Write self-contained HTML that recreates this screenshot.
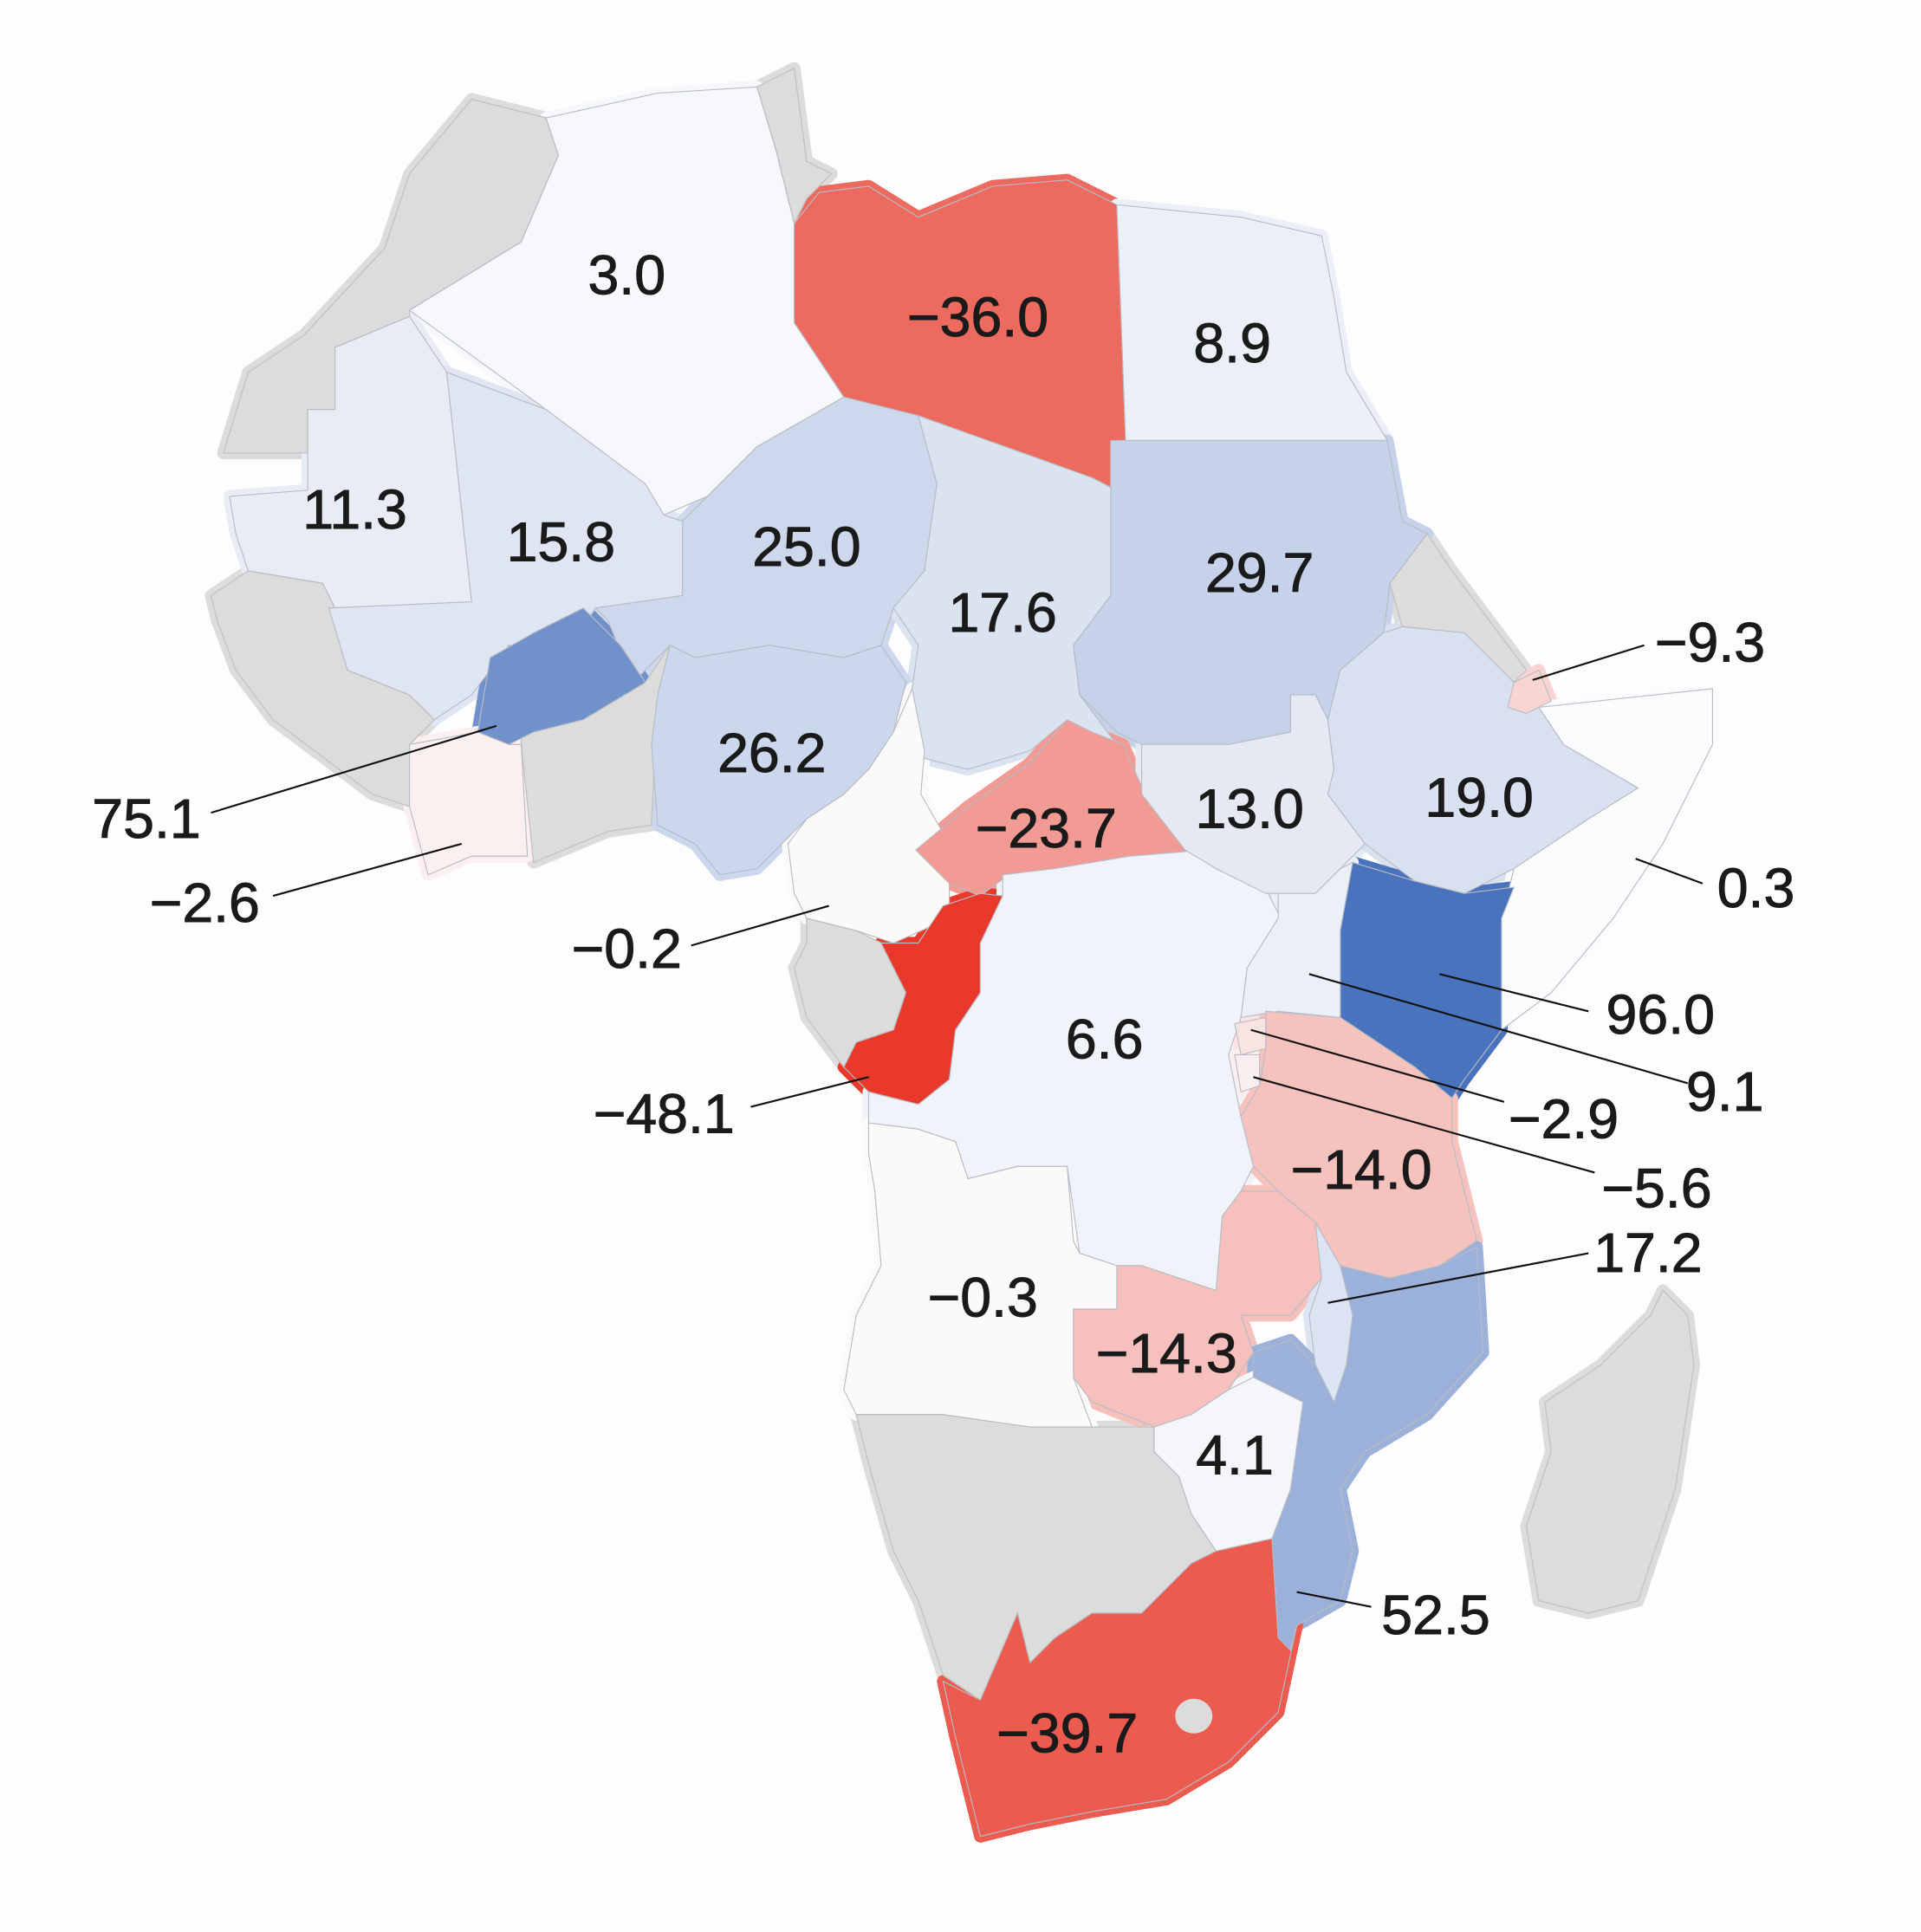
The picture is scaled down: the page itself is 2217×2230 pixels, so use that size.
<!DOCTYPE html>
<html><head><meta charset="utf-8"><style>
html,body{margin:0;padding:0;background:#fdfdfd;}
svg{display:block;}
text{font-family:"Liberation Sans",sans-serif;font-size:45px;fill:#1a1a1a;stroke:#1a1a1a;stroke-width:0.7;}
</style></head><body>
<svg id="map" width="2217" height="2230" viewBox="0 0 1548 1557" xmlns="http://www.w3.org/2000/svg">
<rect width="1548" height="1557" fill="#fdfdfd"/>
<g id="under"></g><g id="countries"></g><g id="leaders"></g><g id="labels"></g>
</svg>
<script>
const countries=["Algeria","Libya","Egypt","Mauritania","Mali","Niger","Chad","Sudan","Burkina Faso","Nigeria","Cote d'Ivoire","Cameroon","CAR","Congo","DRC","South Sudan","Ethiopia","Djibouti","Somalia","Kenya","Uganda","Rwanda","Burundi","Tanzania","Zambia","Malawi","Mozambique","Zimbabwe","Angola","South Africa"];
const values=[3.0,-36.0,8.9,11.3,15.8,25.0,17.6,29.7,75.1,26.2,-2.6,-0.2,-23.7,-48.1,6.6,13.0,19.0,-9.3,0.3,96.0,9.1,-5.6,-2.9,-14.0,-14.3,17.2,52.5,4.1,-0.3,-39.7];
const valueLabels=["3.0","\u221236.0","8.9","11.3","15.8","25.0","17.6","29.7","75.1","26.2","\u22122.6","\u22120.2","\u221223.7","\u221248.1","6.6","13.0","19.0","\u22129.3","0.3","96.0","9.1","\u22125.6","\u22122.9","\u221214.0","\u221214.3","17.2","52.5","4.1","\u22120.3","\u221239.7"];
const shapes={
"Algeria":[[330,250],[420,195],[450,125],[440,95],[530,75],[610,70],[625,120],[640,180],[640,260],[680,320],[610,360],[570,400],[535,415],[520,390],[440,330]],
"Libya":[[640,180],[660,155],[700,150],[740,175],[800,150],[860,145],[900,165],[910,400],[880,385],[740,335],[680,320],[640,260]],
"Egypt":[[900,165],[1000,175],[1065,190],[1075,240],[1085,300],[1118,355],[907,355]],
"Mauritania":[[185,400],[248,395],[248,330],[270,330],[270,280],[330,255],[360,300],[380,485],[270,490],[260,470],[200,460],[190,430]],
"Mali":[[360,300],[440,330],[520,390],[535,415],[550,420],[550,480],[480,490],[460,520],[410,520],[380,560],[350,580],[330,560],[280,540],[265,490],[380,485]],
"Niger":[[550,420],[570,400],[610,360],[680,320],[740,335],[755,390],[745,460],[720,490],[710,520],[680,530],[620,520],[560,530],[540,520],[510,550],[490,500],[480,490],[550,480]],
"Chad":[[740,335],[880,385],[905,398],[895,480],[865,520],[870,560],[900,600],[880,600],[860,580],[830,605],[780,620],[740,610],[735,555],[740,520],[720,490],[745,460],[755,390]],
"Sudan":[[895,355],[1118,355],[1130,420],[1150,430],[1120,470],[1115,510],[1080,540],[1070,580],[1060,560],[1040,560],[1040,590],[990,600],[920,600],[900,590],[870,560],[865,520],[895,480]],
"Burkina Faso":[[385,590],[395,530],[430,510],[470,490],[500,520],[520,550],[470,580],[430,590],[410,600]],
"Nigeria":[[540,520],[560,530],[620,520],[680,530],[710,520],[730,550],[720,590],[700,620],[680,640],[650,660],[630,680],[610,700],[580,705],[560,680],[530,665],[525,600],[530,560]],
"Cote d'Ivoire":[[330,600],[385,590],[410,600],[420,600],[425,690],[380,690],[345,705],[330,650]],
"Cameroon":[[700,620],[720,590],[735,555],[745,605],[742,640],[765,680],[765,740],[720,760],[690,750],[650,740],[640,720],[635,680],[650,660],[680,640]],
"CAR":[[738,685],[780,650],[830,615],[860,580],[880,590],[905,600],[925,645],[958,688],[910,692],[850,702],[810,707],[790,722],[765,712]],
"Congo":[[760,730],[790,720],[808,722],[790,760],[790,800],[770,830],[765,870],[740,890],[700,880],[680,860],[690,840],[720,830],[730,800],[720,780],[710,760],[740,760]],
"DRC":[[808,705],[850,700],[910,690],[958,686],[980,700],[1022,720],[1032,740],[1005,780],[1000,820],[990,850],[1000,900],[1010,940],[1000,960],[985,980],[980,1040],[950,1030],[920,1020],[900,1020],[870,1010],[860,940],[820,940],[780,950],[770,920],[740,910],[700,905],[700,880],[740,890],[765,870],[770,830],[790,800],[790,760],[808,722]],
"South Sudan":[[920,600],[990,600],[1040,590],[1040,560],[1060,560],[1070,580],[1075,620],[1070,640],[1100,680],[1080,700],[1060,720],[1020,720],[980,700],[955,685],[920,640]],
"Ethiopia":[[1080,540],[1115,510],[1130,505],[1180,510],[1220,550],[1240,570],[1260,600],[1320,635],[1280,660],[1220,700],[1180,720],[1140,710],[1100,680],[1070,640],[1075,620],[1070,580]],
"Djibouti":[[1220,550],[1240,540],[1250,565],[1230,575],[1215,570]],
"Somalia":[[1240,570],[1380,555],[1380,600],[1340,680],[1300,740],[1250,800],[1210,830],[1210,740],[1220,700],[1280,660],[1320,635],[1260,600]],
"Kenya":[[1090,695],[1140,710],[1180,720],[1220,715],[1210,740],[1210,830],[1180,870],[1170,885],[1140,860],[1080,820],[1080,750]],
"Uganda":[[1030,720],[1060,720],[1080,700],[1090,695],[1080,750],[1080,820],[1030,815],[1000,820],[1005,780],[1030,740]],
"Rwanda":[[995,825],[1020,820],[1020,845],[1000,850]],
"Burundi":[[995,850],[1015,850],[1015,875],[1000,880]],
"Tanzania":[[1020,815],[1080,820],[1140,860],[1170,885],[1170,920],[1180,960],[1190,1000],[1160,1020],[1120,1030],[1080,1020],[1060,985],[1030,960],[1010,940],[1000,900],[1015,875],[1020,845]],
"Zambia":[[900,1020],[920,1020],[950,1030],[980,1040],[985,980],[1000,960],[1030,960],[1060,985],[1065,1030],[1040,1060],[1000,1060],[1010,1090],[990,1120],[960,1140],[930,1150],[880,1130],[865,1110],[865,1055],[900,1055]],
"Malawi":[[1060,985],[1080,1020],[1090,1060],[1085,1100],[1075,1130],[1060,1100],[1055,1060],[1065,1030]],
"Mozambique":[[1080,1020],[1120,1030],[1160,1020],[1190,1005],[1195,1090],[1150,1140],[1100,1170],[1080,1200],[1090,1250],[1080,1290],[1045,1310],[1040,1330],[1030,1320],[1025,1240],[1040,1200],[1050,1130],[1010,1110],[1010,1090],[1040,1080],[1060,1100],[1075,1130],[1085,1100],[1090,1060]],
"Zimbabwe":[[930,1150],[960,1140],[990,1120],[1010,1110],[1050,1130],[1040,1200],[1025,1240],[980,1250],[960,1220],[950,1190],[930,1170]],
"Angola":[[700,905],[740,910],[770,920],[780,950],[820,940],[860,940],[865,1000],[870,1010],[900,1020],[900,1055],[865,1055],[865,1110],[880,1150],[830,1150],[760,1140],[690,1140],[680,1120],[690,1060],[710,1020],[705,960],[700,930]],
"South Africa":[[760,1355],[790,1370],[820,1300],[830,1340],[850,1320],[880,1300],[920,1300],[960,1260],[980,1250],[1025,1240],[1030,1320],[1040,1330],[1045,1310],[1030,1380],[990,1420],[940,1450],[880,1460],[830,1470],[790,1480],[780,1440],[770,1400]]
};
const gray={
"morocco-western-sahara":[[180,365],[248,365],[248,330],[270,330],[270,280],[330,255],[330,250],[420,195],[450,125],[440,95],[380,80],[330,140],[310,200],[245,270],[200,300]],
"tunisia":[[610,70],[640,55],[650,130],[670,140],[650,160],[640,180],[625,120]],
"west-africa-coast":[[170,480],[200,460],[260,470],[270,490],[280,540],[330,560],[350,580],[330,600],[330,650],[300,640],[260,610],[220,580],[190,540],[175,500]],
"ghana-togo-benin":[[420,590],[470,580],[520,550],[540,520],[530,560],[525,665],[490,670],[430,695],[420,600]],
"gabon-eq-guinea":[[650,740],[690,750],[710,760],[720,780],[730,800],[720,830],[690,840],[680,860],[650,820],[640,780],[650,760]],
"eritrea":[[1120,470],[1150,430],[1170,460],[1200,500],[1230,540],[1220,550],[1180,510],[1130,505]],
"namibia-botswana":[[690,1140],[760,1140],[830,1150],[880,1150],[930,1150],[930,1170],[950,1190],[960,1220],[980,1250],[960,1260],[920,1300],[880,1300],[850,1320],[830,1340],[820,1300],[790,1370],[760,1350],[740,1290],[720,1250],[700,1180]],
"madagascar":[[1340,1040],[1360,1060],[1365,1100],[1350,1200],[1320,1290],[1280,1300],[1240,1290],[1230,1230],[1250,1170],[1245,1130],[1290,1100],[1330,1060]]
};
const labelPos={"Algeria":[505,222],"Libya":[788,256],"Egypt":[993,277],"Mauritania":[286,411],"Mali":[452,437],"Niger":[650,441],"Chad":[808,494],"Sudan":[1015,462],"Burkina Faso":[118,660],"Nigeria":[622,607],"Cote d'Ivoire":[165,728],"Cameroon":[505,765],"CAR":[843,668],"Congo":[535,898],"DRC":[890,838],"South Sudan":[1007,652],"Ethiopia":[1192,643],"Djibouti":[1378,518],"Somalia":[1415,716],"Kenya":[1338,818],"Uganda":[1390,880],"Rwanda":[1335,958],"Burundi":[1260,902],"Tanzania":[1097,943],"Zambia":[940,1091],"Malawi":[1328,1010],"Mozambique":[1157,1302],"Zimbabwe":[995,1173],"Angola":[792,1046],"South Africa":[860,1397]};
const leaders={"Burkina Faso":[170,655,400,585],"Cote d'Ivoire":[220,722,372,680],"Cameroon":[557,762,668,730],"Congo":[605,892,700,868],"Djibouti":[1325,520,1235,548],"Somalia":[1372,712,1318,692],"Kenya":[1280,815,1160,785],"Uganda":[1360,873,1055,785],"Burundi":[1212,888,1008,830],"Rwanda":[1285,945,1010,868],"Malawi":[1280,1010,1070,1050],"Mozambique":[1105,1295,1045,1283]};
const NS="http://www.w3.org/2000/svg";
function mix(a,b,t){return a.map((v,i)=>Math.round(v+(b[i]-v)*t));}
function color(v){
  if(v>=0){const c=mix([252,252,253],[74,115,189],Math.min(1,v/96));return `rgb(${c})`;}
  const c=mix([252,250,250],[232,57,43],Math.min(1,-v/48.1));return `rgb(${c})`;
}
const gU=document.getElementById('under'),gC=document.getElementById('countries'),gL=document.getElementById('leaders'),gT=document.getElementById('labels');
function slug(s){return s.toLowerCase().replace(/[^a-z]+/g,'-');}
function pts(a){return a.map(q=>q.join(',')).join(' ');}
for(const k in gray){
  const u=document.createElementNS(NS,'polygon');
  u.setAttribute('points',pts(gray[k]));u.setAttribute('fill','#dcdcdc');u.setAttribute('stroke','#dcdcdc');u.setAttribute('stroke-width','10');u.setAttribute('stroke-linejoin','round');
  
  
  gU.appendChild(u);
  const p=document.createElementNS(NS,'polygon');
  p.setAttribute('points',pts(gray[k]));
  p.setAttribute('fill','#dcdcdc');p.setAttribute('stroke','#c4c4c4');p.setAttribute('stroke-width','1');
  
  
  gC.appendChild(p);
}
countries.forEach((c,i)=>{
  const u=document.createElementNS(NS,'polygon');
  u.setAttribute('points',pts(shapes[c]));u.setAttribute('fill',color(values[i]));u.setAttribute('stroke',color(values[i]));u.setAttribute('stroke-width','10');u.setAttribute('stroke-linejoin','round');
  
  
  gU.appendChild(u);
});
countries.forEach((c,i)=>{
  const p=document.createElementNS(NS,'polygon');
  p.setAttribute('points',pts(shapes[c]));
  p.setAttribute('fill',color(values[i]));p.setAttribute('stroke','#b8bcc4');p.setAttribute('stroke-width','0.8');
  
  
  gC.appendChild(p);
  if(leaders[c]){
    const l=document.createElementNS(NS,'line');const q=leaders[c];
    l.setAttribute('x1',q[0]);l.setAttribute('y1',q[1]);l.setAttribute('x2',q[2]);l.setAttribute('y2',q[3]);
    l.setAttribute('stroke','#111');l.setAttribute('stroke-width','1.5');
    
    
    gL.appendChild(l);
  }
  const t=document.createElementNS(NS,'text');
  t.setAttribute('x',labelPos[c][0]);t.setAttribute('y',labelPos[c][1]+15);
  t.setAttribute('text-anchor','middle');
  t.textContent=valueLabels[i];
  
  
  gT.appendChild(t);
});
const les=document.createElementNS(NS,'ellipse');
les.setAttribute('cx',962);les.setAttribute('cy',1383);les.setAttribute('rx',15);les.setAttribute('ry',14);les.setAttribute('fill','#dcdcdc');


gC.appendChild(les);
</script>
</body></html>
